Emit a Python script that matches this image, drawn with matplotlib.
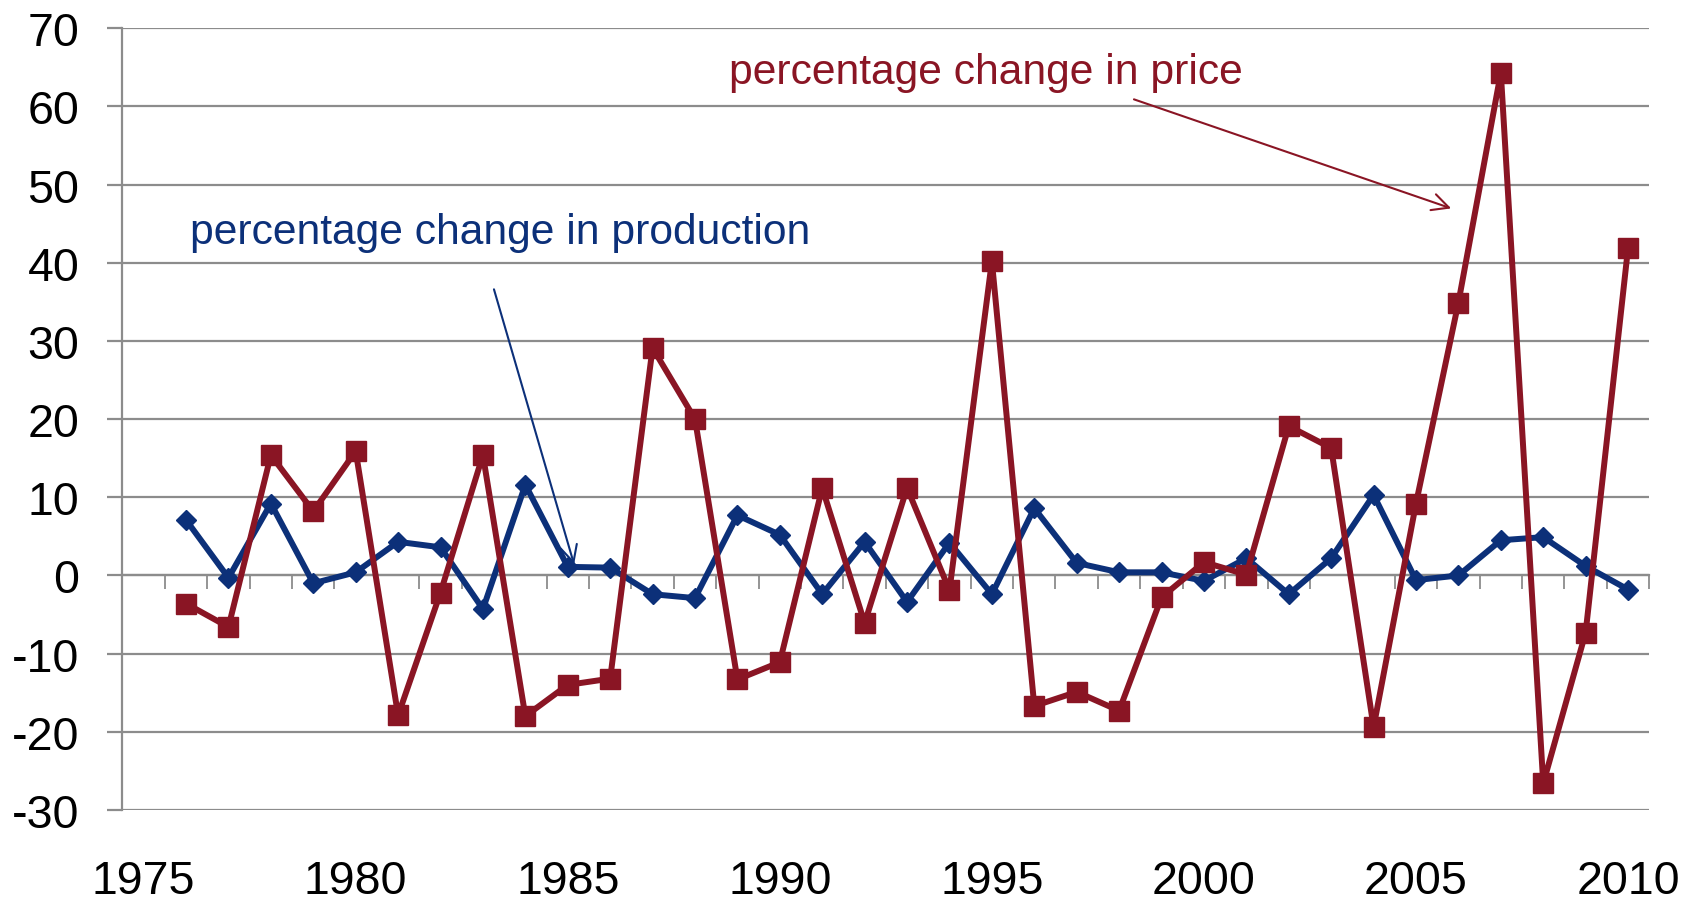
import matplotlib.pyplot as plt

plt.rcParams['font.family'] = ['Liberation Sans', 'DejaVu Sans']
plt.rcParams['axes.unicode_minus'] = False

# data
years = list(range(1976, 2011))
production = [7.1, -0.3, 9.2, -1.0, 0.4, 4.3, 3.6, -4.3, 11.6, 1.1,
              1.0, -2.4, -2.9, 7.7, 5.2, -2.4, 4.3, -3.4, 4.2, -2.4,
              8.6, 1.6, 0.4, 0.4, -0.7, 2.2, -2.4, 2.2, 10.3, -0.6,
              0.0, 4.5, 4.9, 1.2, -1.8]
price = [-3.6, -6.6, 15.4, 8.2, 15.9, -17.9, -2.2, 15.4, -18.0, -14.0,
         -13.2, 29.1, 20.0, -13.3, -11.1, 11.2, -6.1, 11.2, -1.9, 40.2,
         -16.7, -14.9, -17.3, -2.8, 1.7, 0.1, 19.1, 16.3, -19.4, 9.2,
         34.9, 64.3, -26.6, -7.3, 41.9]
year_labels = [1975, 1980, 1985, 1990, 1995, 2000, 2005, 2010]
y_ticks = list(range(-30, 71, 10))

blue = '#0c3079'
red = '#8a1524'
grid_col = '#8c8c8c'

fig = plt.figure(figsize=(16.98, 9.04), dpi=100)
ax = fig.add_axes([0.0721, 0.1029, 0.8992, 0.8648])

ax.plot(years, production, color=blue, lw=4.3, marker='D', ms=10.5, zorder=3)
ax.plot(years, price, color=red, lw=4.3, marker='s', ms=14.5, zorder=4)

ax.set_xlim(1974.5, 2010.5)
ax.set_ylim(-30, 70)
ax.set_yticks(y_ticks)
ax.yaxis.grid(True, color=grid_col, lw=1.6)
ax.set_axisbelow(True)
ax.tick_params(axis='y', length=11, width=1.6, color=grid_col,
               labelsize=33.5, pad=20)

# category axis sits on the zero line, tick marks between categories
for s in ['top', 'right']:
    ax.spines[s].set_visible(False)
ax.spines['left'].set_color(grid_col)
ax.spines['left'].set_linewidth(1.6)
ax.spines['bottom'].set_position(('data', 0))
ax.spines['bottom'].set_color(grid_col)
ax.spines['bottom'].set_linewidth(1.6)
ax.set_xticks([y + 0.5 for y in range(1974, 2011)])
ax.tick_params(axis='x', length=10, width=1.3, color=grid_col,
               labelbottom=False)

# year labels at the bottom of the plot area
sec = ax.secondary_xaxis('bottom')
sec.set_xticks(year_labels)
sec.tick_params(length=0, labelsize=33.5, pad=35)
sec.spines['bottom'].set_visible(False)

ax.text(1976.1, 43.9, 'percentage change in production', color=blue,
        fontsize=30.7, va='center', ha='left')
ax.annotate('', xy=(1985.15, 1.4), xytext=(1983.26, 36.6),
            arrowprops=dict(arrowstyle='->', color=blue, lw=1.5,
                            mutation_scale=30, shrinkA=0, shrinkB=0))

ax.text(1988.8, 64.4, 'percentage change in price', color=red,
        fontsize=30.7, va='center', ha='left')
ax.annotate('', xy=(2005.83, 46.95), xytext=(1998.35, 60.9),
            arrowprops=dict(arrowstyle='->', color=red, lw=1.5,
                            mutation_scale=30, shrinkA=0, shrinkB=0))

fig.savefig('out.png', dpi=100)
